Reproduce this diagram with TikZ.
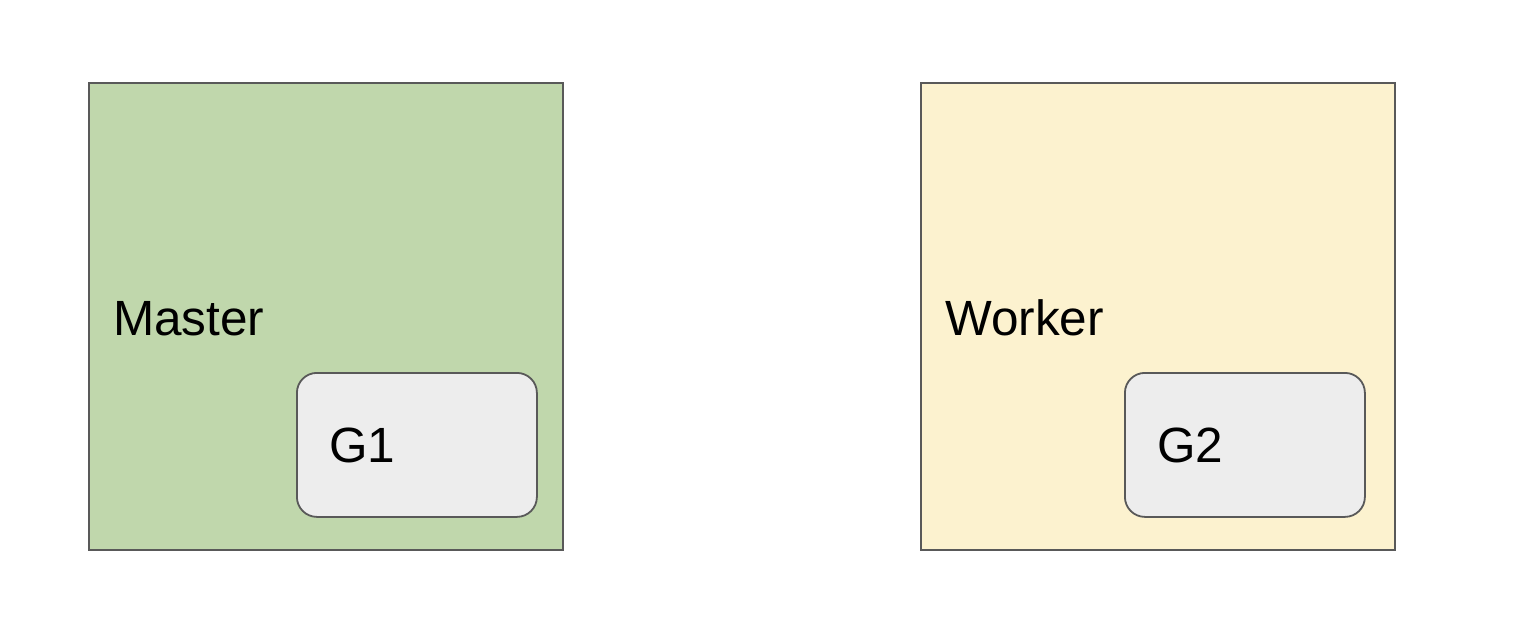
\documentclass[tikz,border=0pt]{standalone}
\usepackage{fontspec}
\setmainfont{Liberation Sans}
\definecolor{mgreen}{HTML}{C0D7AC}
\definecolor{wyellow}{HTML}{FCF2CF}
\definecolor{ggray}{HTML}{EDEDED}
\definecolor{edge}{HTML}{595959}
\begin{document}
\begin{tikzpicture}[x=1pt,y=-1pt,
  hostbox/.style={draw=edge,line width=1.8pt,minimum width=474pt,minimum height=467pt,inner sep=0pt,anchor=north west},
  gpubox/.style={draw=edge,line width=1.8pt,fill=ggray,rounded corners=20pt,minimum width=240pt,minimum height=144pt,inner sep=0pt,anchor=north west},
  lbl/.style={font=\fontsize{49.5}{58}\selectfont,anchor=base west,inner sep=0pt}]
\useasboundingbox (0,0) rectangle (1520,628);
\node[hostbox,fill=mgreen] (master) at (88,82) {};
\node[hostbox,fill=wyellow] (worker) at (920,82) {};
\node[gpubox] (g1) at (296,372) {};
\node[gpubox] (g2) at (1124,372) {};
\node[lbl] (mlabel) at (113,335) {Master};
\node[lbl] (wlabel) at (945,335) {Worker};
\node[lbl] (g1label) at (329,462) {G1};
\node[lbl] (g2label) at (1157,462) {G2};
\end{tikzpicture}
\end{document}
